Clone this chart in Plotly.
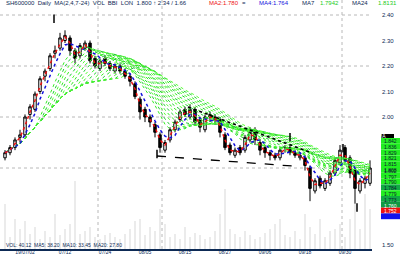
import plotly.graph_objects as go
import pandas as pd

# ---------------- data ----------------
open_ = [1.84,1.86,1.88,1.92,1.93,2.01,2.03,2.10,2.16,2.19,
         2.25,2.27,2.30,2.31,2.26,2.24,2.27,2.29,2.23,2.19,
         2.23,2.21,2.18,2.20,2.18,2.16,2.13,2.07,2.03,2.00,
         1.97,1.93,1.87,1.91,1.95,1.99,2.03,2.00,2.03,1.99,
         1.95,2.01,2.00,1.99,1.93,1.89,1.85,1.88,1.87,1.91,
         1.95,1.90,1.88,1.86,1.85,1.84,1.88,1.88,1.86,1.84,
         1.84,1.80,1.71,1.76,1.72,1.74,1.78,1.82,1.88,1.84,
         1.79,1.71,1.74,1.74]
high = [1.87,1.89,1.92,1.95,2.01,2.05,2.10,2.16,2.19,2.25,
        2.28,2.33,2.34,2.32,2.27,2.29,2.30,2.30,2.24,2.23,
        2.24,2.22,2.21,2.21,2.19,2.17,2.14,2.08,2.04,2.01,
        1.98,1.94,1.91,1.96,1.99,2.03,2.04,2.05,2.04,2.00,
        2.01,2.02,2.01,2.00,1.94,1.90,1.88,1.89,1.93,1.96,
        1.96,1.91,1.89,1.87,1.86,1.88,1.89,1.89,1.87,1.86,
        1.85,1.81,1.76,1.77,1.76,1.79,1.84,1.89,1.89,1.85,
        1.80,1.76,1.77,1.83]
low = [1.83,1.85,1.87,1.90,1.92,1.99,2.02,2.09,2.14,2.18,
       2.23,2.26,2.29,2.24,2.21,2.23,2.26,2.21,2.19,2.18,
       2.20,2.18,2.17,2.17,2.15,2.12,2.07,1.99,1.98,1.96,
       1.92,1.86,1.86,1.90,1.94,1.98,2.00,1.99,1.97,1.94,
       1.94,1.98,1.97,1.92,1.87,1.85,1.84,1.85,1.86,1.90,
       1.89,1.85,1.84,1.83,1.83,1.83,1.86,1.85,1.84,1.83,
       1.79,1.67,1.70,1.72,1.71,1.73,1.77,1.81,1.82,1.76,
       1.66,1.70,1.72,1.73]
close = [1.86,1.88,1.91,1.93,2.00,2.04,2.09,2.15,2.18,2.24,
         2.26,2.31,2.32,2.26,2.23,2.28,2.29,2.22,2.20,2.22,
         2.21,2.19,2.20,2.18,2.16,2.14,2.08,2.02,2.00,1.98,
         1.94,1.88,1.90,1.95,1.98,2.02,2.01,2.03,1.98,1.96,
         2.00,2.00,1.99,1.94,1.88,1.86,1.87,1.86,1.92,1.94,
         1.91,1.87,1.86,1.85,1.84,1.87,1.88,1.86,1.85,1.85,
         1.81,1.72,1.75,1.73,1.75,1.78,1.83,1.87,1.83,1.78,
         1.72,1.75,1.76,1.80]
volume = [45,12,30,20,28,15,22,10,18,12,
          35,14,20,25,68,15,18,22,12,10,
          14,16,12,10,15,20,28,30,14,22,
          18,40,25,12,15,10,22,12,16,14,
          10,12,18,35,60,20,15,12,18,14,
          10,12,16,20,25,30,14,12,18,10,
          35,22,15,30,12,18,20,25,12,30,
          45,20,55,40]
idx = list(range(len(close)))

fast_window = 2
mid_window = 4
ribbon_windows = list(range(7, 25))

upper_trend_x = [36.6, 61.4]
upper_trend_y = [2.039, 1.859]
lower_trend_x = [30.4, 57.4]
lower_trend_y = [1.847, 1.808]

mark_x = [9.8, 30.4, 57.0, 67.6, 70.4]
mark_y = [2.385, 1.855, 1.921, 1.878, 1.645]

price_ticks = [2.40, 2.30, 2.20, 2.10, 2.00, 1.50]
grid_prices = [2.40, 2.20, 2.00, 1.80]
grid_idx = [18.6, 31.4, 67.4]
date_tick_idx = [4, 12, 20, 28, 36, 44, 52, 60, 68]
date_tick_text = ["19/07/02", "07/12", "07/24", "08/05", "08/15",
                  "08/27", "09/06", "09/18", "09/30"]

legend_header = "MA"
legend_values = ["1.842", "1.836", "1.829", "1.821", "1.815", "1.808", "1.802",
                 "1.797", "1.790", "1.784", "1.779", "1.773", "1.760", "1.752"]

title_parts = [
    ("SH600000  Daily  MA(2,4,7-24)  VOL  BBI  LON  1.800 ↑ 2.34 / 1.66", "#0d2a55", 4),
    ("MA2:1.780", "#ee1111", 207),
    ("=", "#0d2a55", 240),
    ("MA4:1.764", "#1111dd", 257),
    ("MA7", "#0d2a55", 300),
    ("1.7942", "#22cc22", 318),
    ("MA24", "#0d2a55", 350),
    ("1.8131", "#22cc22", 376),
]

# ---------------- figure ----------------
W, H = 400, 255
fig = go.Figure()

fig.add_trace(go.Bar(x=idx, y=volume, yaxis="y2", width=0.3,
                     marker=dict(color="#ebebeb", line=dict(width=0)),
                     showlegend=False, hoverinfo="skip"))

s = pd.Series(close)
ribbon_colors = ["#33ee22", "#22cc33", "#55ff33"]
for k, w in enumerate(ribbon_windows):
    ma = s.rolling(w, min_periods=1).mean()
    fig.add_trace(go.Scatter(x=idx, y=ma, mode="lines",
                             line=dict(color=ribbon_colors[k % 3], width=1, dash="dot"),
                             showlegend=False, hoverinfo="skip"))

fig.add_trace(go.Candlestick(
    x=idx, open=open_, high=high, low=low, close=close,
    increasing=dict(line=dict(color="black", width=1), fillcolor="white"),
    decreasing=dict(line=dict(color="black", width=1), fillcolor="black"),
    whiskerwidth=0, showlegend=False))

fig.add_trace(go.Scatter(x=idx, y=s.rolling(mid_window, min_periods=1).mean(),
                         mode="lines", line=dict(color="#1111dd", width=1.5, dash="dot"),
                         showlegend=False))
fig.add_trace(go.Scatter(x=idx, y=s.rolling(fast_window, min_periods=1).mean(),
                         mode="lines", line=dict(color="#ee1111", width=1.5, dash="dot"),
                         showlegend=False))

fig.add_trace(go.Scatter(x=upper_trend_x, y=upper_trend_y, mode="lines",
                         line=dict(color="black", width=1.6, dash="dot"), showlegend=False))
fig.add_trace(go.Scatter(x=lower_trend_x, y=lower_trend_y, mode="lines",
                         line=dict(color="black", width=1.3, dash="dash"), showlegend=False))
fig.add_trace(go.Scatter(x=mark_x, y=mark_y, mode="markers",
                         marker=dict(symbol="line-ns", size=6,
                                     line=dict(color="black", width=1.5)),
                         showlegend=False))

shapes = []
for gp in grid_prices:
    shapes.append(dict(type="line", xref="paper", x0=0, x1=0.93, yref="y", y0=gp, y1=gp,
                       line=dict(color="#b8b8b8", width=1, dash="dot"), layer="below"))
for gx in grid_idx:
    shapes.append(dict(type="line", xref="x", x0=gx, x1=gx, yref="paper", y0=0.0235, y1=1,
                       line=dict(color="#b8b8b8", width=1, dash="dot"), layer="below"))


def py(p):
    return 1 - p / H


annotations = []
shapes.append(dict(type="rect", xref="paper", yref="paper", x0=381 / W, x1=394 / W,
                   y0=py(138), y1=py(134), fillcolor="black", line=dict(width=0)))
annotations.append(dict(xref="paper", yref="paper", x=387.5 / W, y=py(136), text=legend_header,
                        showarrow=False, font=dict(size=5, color="white", family="Liberation Sans")))
row_colors = ["#22ee22"] * 8 + ["#11aa44", "#22ee22", "#11aa44", "#119944", "#ee1111", "#1111ee"]
row_top = 138
row_h = 5.8
for i, (val, col) in enumerate(zip(legend_values, row_colors)):
    y0 = row_top + i * row_h
    shapes.append(dict(type="rect", xref="paper", yref="paper", x0=381 / W, x1=1,
                       y0=py(y0 + row_h), y1=py(y0), fillcolor=col, line=dict(width=0)))
    tc = "white" if col in ("#ee1111", "#1111ee") else "#0a1a30"
    annotations.append(dict(xref="paper", yref="paper", x=399 / W, y=py(y0 + row_h / 2),
                            xanchor="right", text=val, showarrow=False,
                            font=dict(size=5, color=tc, family="Liberation Sans")))

for txt, col, xp in title_parts:
    annotations.append(dict(xref="paper", yref="paper", x=xp / W, y=py(3.5), xanchor="left",
                            yanchor="middle", text=txt, showarrow=False,
                            font=dict(size=6, color=col, family="Liberation Sans")))

annotations.append(dict(xref="paper", yref="paper", x=4 / W, y=py(245), xanchor="left",
                        yanchor="middle", text="VOL: 40.12  MA5: 38.20  MA10: 33.45  MA20: 27.80",
                        showarrow=False, font=dict(size=5, color="#0d2a55", family="Liberation Sans")))

fig.update_layout(
    width=W, height=H,
    margin=dict(l=0, r=0, t=0, b=0),
    paper_bgcolor="white", plot_bgcolor="white",
    showlegend=False, bargap=0,
    shapes=shapes, annotations=annotations,
    xaxis=dict(domain=[0, 0.93], range=[-1, 73.4], showgrid=False, zeroline=False,
               rangeslider=dict(visible=False),
               tickvals=date_tick_idx, ticktext=date_tick_text, ticks="",
               ticklabelstandoff=-3,
               tickfont=dict(size=5, color="#0d2a55", family="Liberation Sans"),
               showline=True, linecolor="#0d2a55", linewidth=1.5, automargin=False),
    yaxis=dict(domain=[6 / H, 1], range=[1.4824, 2.4588], side="right", showgrid=False,
               zeroline=False, tickvals=price_ticks, tickformat=".2f", ticks="",
               ticklabelstandoff=9,
               tickfont=dict(size=6, color="#0d2a55", family="Liberation Sans"),
               automargin=False),
    yaxis2=dict(domain=[6 / H, 1], overlaying="y", range=[0, 249], visible=False),
)

fig.write_html("out.html")
